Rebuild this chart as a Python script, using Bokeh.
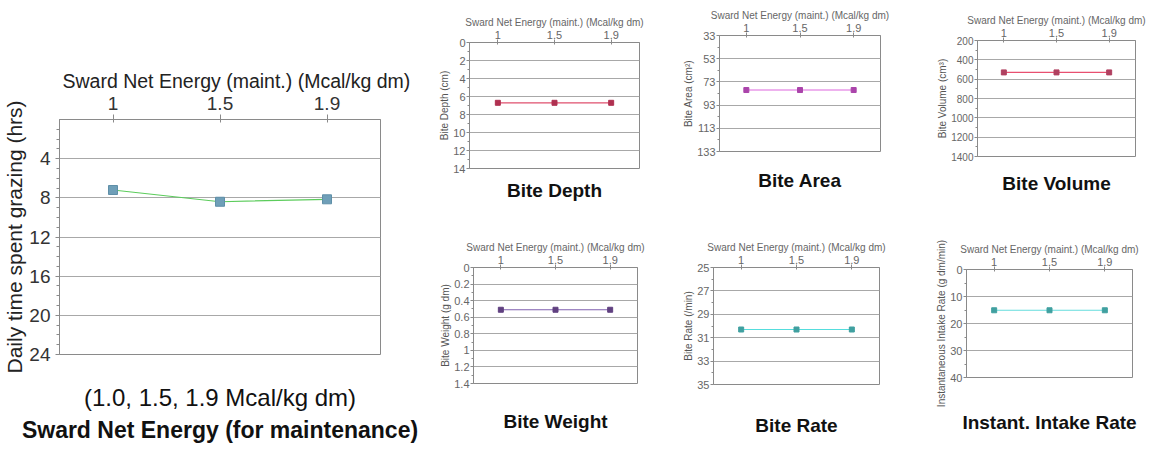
from bokeh.plotting import figure
from bokeh.layouts import row, column
from bokeh.models import FactorRange, Range1d, FixedTicker, Title
from bokeh.embed import file_html
from bokeh.resources import INLINE

# ---------------- data ----------------
energy_levels = ["1", "1.5", "1.9"]

grazing_hours = [7.2, 8.4, 8.15]
grazing_ticks = [4, 8, 12, 16, 20, 24]

bite_depth = [6.7, 6.7, 6.7]
bite_depth_ticks = [0, 2, 4, 6, 8, 10, 12, 14]

bite_area = [80, 80, 80]
bite_area_ticks = [33, 53, 73, 93, 113, 133]

bite_volume = [530, 530, 530]
bite_volume_ticks = [200, 400, 600, 800, 1000, 1200, 1400]

bite_weight = [0.51, 0.51, 0.51]
bite_weight_ticks = [0, 0.2, 0.4, 0.6, 0.8, 1, 1.2, 1.4]

bite_rate = [30.3, 30.3, 30.3]
bite_rate_ticks = [25, 27, 29, 31, 33, 35]

intake_rate = [15.1, 15.1, 15.1]
intake_rate_ticks = [0, 10, 20, 30, 40]

FONT = "Liberation Sans"
GRID = "#a8a8a8"
OUTLINE = "#8a8a8a"
X_LABEL = "Sward Net Energy (maint.) (Mcal/kg dm)"


def make_fig(y_lo, y_hi, fig_box, frame_box):
    fx, fy, fw_tot, fh_tot = fig_box
    L, T, W, H = frame_box
    f = figure(
        x_range=FactorRange(*energy_levels),
        y_range=Range1d(y_hi, y_lo),
        frame_width=W, frame_height=H,
        min_border_left=L - fx, min_border_top=T - fy,
        min_border_right=fx + fw_tot - L - W,
        min_border_bottom=fy + fh_tot - T - H,
        x_axis_location="above",
        output_backend="svg", toolbar_location=None, tools="",
    )
    f.background_fill_color = "white"
    f.border_fill_color = "white"
    f.outline_line_color = OUTLINE
    f.outline_line_width = 1
    f.xgrid.visible = False
    f.ygrid.grid_line_color = GRID
    f.ygrid.grid_line_width = 1
    for ax in (f.xaxis[0], f.yaxis[0]):
        ax.axis_line_color = OUTLINE
        ax.major_tick_line_color = OUTLINE
        ax.minor_tick_line_color = OUTLINE
        ax.major_label_text_font = FONT
        ax.axis_label_text_font = FONT
        ax.axis_label_text_font_style = "normal"
    return f


def spacer(f, gap):
    f.add_layout(Title(text=" ", text_font_size="2px", standoff=gap), "below")


# ---------------- main chart ----------------
main = make_fig(0, 24, (0, 0, 420, 455), (59, 119, 321, 235))

minor_main = [v for v in range(0, 25) if v % 4 != 0]
main.yaxis.ticker = FixedTicker(ticks=grazing_ticks, minor_ticks=minor_main)
main.ygrid.ticker = FixedTicker(ticks=grazing_ticks)
main.yaxis.major_label_text_font_size = "19px"
main.yaxis.major_label_text_color = "#333333"
main.yaxis.major_tick_out = 4
main.yaxis.major_tick_in = 0
main.yaxis.minor_tick_out = 3
main.yaxis.minor_tick_in = 0
main.yaxis.major_label_standoff = 5
main.yaxis.axis_label = "Daily time spent grazing (hrs)"
main.yaxis.axis_label_text_font_size = "21px"
main.yaxis.axis_label_text_color = "#222222"
main.yaxis.axis_label_standoff = 0

main.xaxis.major_label_text_font_size = "19px"
main.xaxis.major_label_text_color = "#333333"
main.xaxis.major_tick_out = 5
main.xaxis.major_tick_in = 3
main.xaxis.major_label_standoff = 5

main.title.text = X_LABEL
main.title.align = "left"
main.title.offset = 3
main.title.text_font = FONT
main.title.text_font_style = "normal"
main.title.text_font_size = "19.5px"
main.title.text_color = "#222222"
main.title.standoff = 4

main.line(energy_levels, grazing_hours, line_color="#5ccc5c", line_width=1.2)
main.scatter(energy_levels, grazing_hours, marker="square", size=9,
             fill_color="#6f9fb8", line_color="#5f8fa8")

spacer(main, 23)
main.add_layout(Title(text="(1.0, 1.5, 1.9 Mcal/kg dm)", align="center",
                      text_font=FONT, text_font_style="normal",
                      text_font_size="24px", text_color="#111111",
                      standoff=0), "below")
main.add_layout(Title(text="Sward Net Energy (for maintenance)", align="center",
                      text_font=FONT, text_font_style="bold",
                      text_font_size="23px", text_color="#111111",
                      standoff=8), "below")


# ---------------- small charts ----------------
def small_panel(title, ylabel, values, ticks, line_color, marker_color,
                fig_box, frame_box, title_gap, tick_size="11px"):
    f = make_fig(ticks[0], ticks[-1], fig_box, frame_box)
    minor = [(a + b) / 2 for a, b in zip(ticks[:-1], ticks[1:])]
    f.yaxis.ticker = FixedTicker(ticks=ticks, minor_ticks=minor)
    f.ygrid.ticker = FixedTicker(ticks=ticks)
    f.yaxis.major_label_overrides = {t: f"{t:g}" for t in ticks}
    f.yaxis.major_label_text_font_size = tick_size
    f.yaxis.major_label_text_color = "#666666"
    f.yaxis.major_tick_out = 3
    f.yaxis.major_tick_in = 0
    f.yaxis.minor_tick_out = 2
    f.yaxis.minor_tick_in = 0
    f.yaxis.major_label_standoff = 1
    f.yaxis.axis_label = ylabel
    f.yaxis.axis_label_text_font_size = "10px"
    f.yaxis.axis_label_text_color = "#555555"
    f.yaxis.axis_label_standoff = 0

    f.xaxis.major_label_text_font_size = "11px"
    f.xaxis.major_label_text_color = "#666666"
    f.xaxis.major_tick_out = 3
    f.xaxis.major_tick_in = 2
    f.xaxis.major_label_standoff = 1
    f.xaxis.axis_label = X_LABEL
    f.xaxis.axis_label_text_font_size = "10px"
    f.xaxis.axis_label_text_color = "#666666"
    f.xaxis.axis_label_standoff = 0

    f.line(energy_levels, values, line_color=line_color, line_width=1.2)
    f.scatter(energy_levels, values, marker="square", size=5,
              fill_color=marker_color, line_color=marker_color)

    spacer(f, title_gap)
    f.add_layout(Title(text=title, align="center", text_font=FONT,
                       text_font_style="bold", text_font_size="19px",
                       text_color="#111111", standoff=0), "below")
    return f


f_depth = small_panel("Bite Depth", "Bite Depth (cm)", bite_depth, bite_depth_ticks,
                      "#e0506e", "#b03050",
                      (420, 0, 260, 230), (469, 42, 170, 126), 5)
f_area = small_panel("Bite Area", "Bite Area (cm²)", bite_area, bite_area_ticks,
                     "#dd66dd", "#aa44aa",
                     (680, 0, 250, 230), (715, 35, 161, 116), 12)
f_volume = small_panel("Bite Volume", "Bite Volume (cm³)", bite_volume, bite_volume_ticks,
                       "#e85070", "#b04060",
                       (930, 0, 222, 230), (968, 40, 158, 116), 10, tick_size="10px")
f_weight = small_panel("Bite Weight", "Bite Weight (g dm)", bite_weight, bite_weight_ticks,
                       "#8060b0", "#604080",
                       (420, 230, 260, 225), (473, 267, 164, 116), 21)
f_rate = small_panel("Bite Rate", "Bite Rate (/min)", bite_rate, bite_rate_ticks,
                     "#55dddd", "#40a0a0",
                     (680, 230, 250, 225), (710, 267, 166, 117), 24)
f_intake = small_panel("Instant. Intake Rate", "Instantaneous Intake Rate (g dm/min)",
                       intake_rate, intake_rate_ticks,
                       "#66dddd", "#40a0a0",
                       (930, 230, 222, 225), (959, 269, 166, 108), 28)

# wrap every figure in its own column so that Bokeh does not align frames
cells = [column(f) for f in (f_depth, f_area, f_volume, f_weight, f_rate, f_intake)]
layout = row(column(main), column(row(*cells[:3]), row(*cells[3:])))

with open("out.html", "w") as fh:
    fh.write(file_html(layout, INLINE))
